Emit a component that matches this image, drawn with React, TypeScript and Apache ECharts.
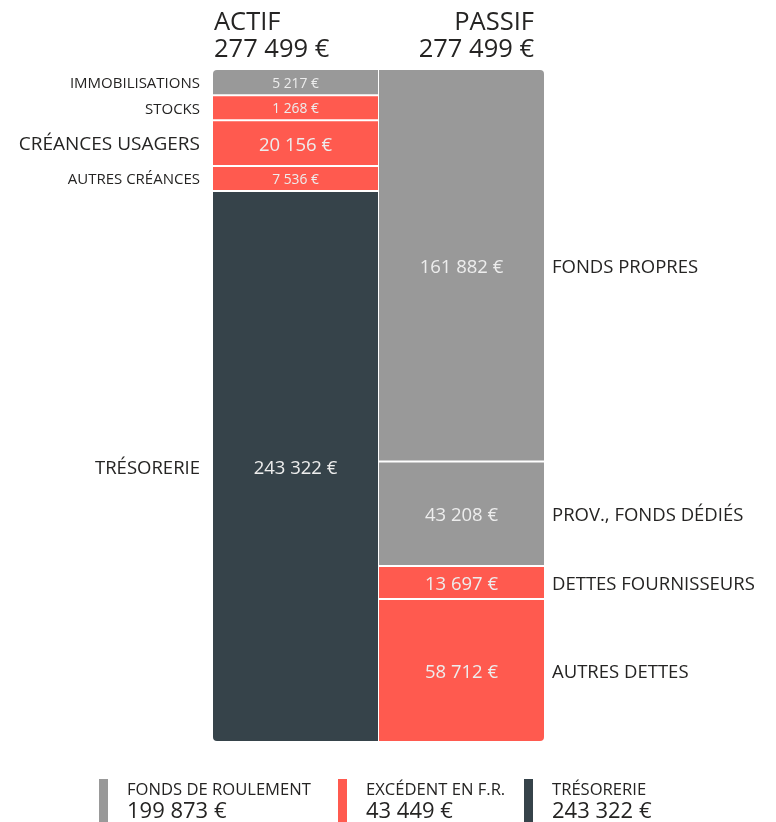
import React, { useEffect, useRef } from "react";
import * as echarts from "echarts";

const columns = ["ACTIF", "PASSIF"];
const columnTotals = [277499, 277499];

const actifNames = ["IMMOBILISATIONS", "STOCKS", "CRÉANCES USAGERS", "AUTRES CRÉANCES", "TRÉSORERIE"];
const actifValues = [5217, 1268, 20156, 7536, 243322];
const actifGroups = ["fr", "exc", "exc", "exc", "tre"];

const passifNames = ["FONDS PROPRES", "PROV., FONDS DÉDIÉS", "DETTES FOURNISSEURS", "AUTRES DETTES"];
const passifValues = [161882, 43208, 13697, 58712];
const passifGroups = ["fr", "fr", "exc", "exc"];

const legendNames = ["FONDS DE ROULEMENT", "EXCÉDENT EN F.R.", "TRÉSORERIE"];
const legendValues = [199873, 43449, 243322];
const legendKeys = ["fr", "exc", "tre"];

const COLORS: Record<string, string> = { fr: "#999999", exc: "#FF5A4F", tre: "#36434A" };
const FONT = "'Open Sans', 'Noto Sans', sans-serif";
const TEXT = "#252423";
const MIN_SHARE = 0.0375; // minimum visual share of a segment

const fmt = (n: number) => String(n).replace(/\B(?=(\d{3})+(?!\d))/g, " ") + " €";

type Item = { col: number; idx: number; n: number; start: number; end: number; value: number; name: string; group: string };

function buildColumn(col: number, names: string[], values: number[], groups: string[]): Item[] {
  const total = values.reduce((a, b) => a + b, 0);
  const minV = MIN_SHARE * total;
  const small = values.map((v) => v < minV);
  const nSmall = small.filter(Boolean).length;
  const bigSum = values.reduce((a, v, i) => a + (small[i] ? 0 : v), 0);
  const rest = total - nSmall * minV;
  let acc = 0;
  return values.map((v, i) => {
    const d = small[i] ? minV : (v * rest) / bigSum;
    const it = { col, idx: i, n: values.length, start: acc, end: acc + d, value: v, name: names[i], group: groups[i] };
    acc += d;
    return it;
  });
}

const items: Item[] = [
  ...buildColumn(0, actifNames, actifValues, actifGroups),
  ...buildColumn(1, passifNames, passifValues, passifGroups),
];

export default function App() {
  const ref = useRef<HTMLDivElement>(null);
  useEffect(() => {
    if (!ref.current) return;
    const chart = echarts.init(ref.current, null, { renderer: "svg" });
    const legendX = [99, 338, 524];
    const headerX = [214, 534];
    const headerAlign = ["left", "right"];
    const graphic: any[] = [];
    columns.forEach((c, i) => {
      graphic.push({
        type: "text", x: headerX[i], y: 19.5,
        style: { text: c, fontSize: 25.5, fontFamily: FONT, fill: TEXT, align: headerAlign[i], verticalAlign: "middle" },
      });
      graphic.push({
        type: "text", x: headerX[i], y: 46.5,
        style: { text: fmt(columnTotals[i]), fontSize: 25.5, fontFamily: FONT, fill: TEXT, align: headerAlign[i], verticalAlign: "middle" },
      });
    });
    legendKeys.forEach((k, i) => {
      graphic.push({ type: "rect", shape: { x: legendX[i], y: 779, width: 9, height: 43 }, style: { fill: COLORS[k] } });
      graphic.push({ type: "text", x: legendX[i] + 28, y: 788, style: { text: legendNames[i], fontSize: 16.6, fontFamily: FONT, fill: TEXT, verticalAlign: "middle" } });
      graphic.push({ type: "text", x: legendX[i] + 28, y: 808.5, style: { text: fmt(legendValues[i]), fontSize: 22, fontFamily: FONT, fill: TEXT, verticalAlign: "middle" } });
    });
    chart.setOption({
      animation: false,
      grid: { left: 213, right: 232, top: 70, bottom: 81 },
      xAxis: { type: "category", data: columns, show: false },
      yAxis: { type: "value", inverse: true, min: 0, max: columnTotals[0], show: false },
      graphic,
      series: [
        {
          type: "custom",
          encode: { x: 0, y: [1, 2] },
          data: items.map((it) => [it.col, it.start, it.end, it.value]),
          renderItem: (params: any, api: any) => {
            const it = items[params.dataIndex];
            const p0 = api.coord([it.col, it.start]);
            const p1 = api.coord([it.col, it.end]);
            const bw = api.size([1, 0])[0];
            let x = p0[0] - bw / 2;
            let w = bw;
            let y = p0[1];
            let h = p1[1] - p0[1];
            const first = it.idx === 0;
            const last = it.idx === it.n - 1;
            if (!first) { y += 1; h -= 1; }
            if (!last) { h -= 1; }
            if (it.col === 0) { w -= 0.5; } else { x += 0.5; w -= 0.5; }
            const r = 4;
            const radius = it.col === 0
              ? [first ? r : 0, 0, 0, last ? r : 0]
              : [0, first ? r : 0, last ? r : 0, 0];
            const big = h > 28;
            const cy = y + h / 2;
            const nameSize = big ? (it.name === "CRÉANCES USAGERS" ? 19 : 18.5) : 15;
            return {
              type: "group",
              children: [
                { type: "rect", shape: { x, y, width: w, height: h, r: radius }, style: { fill: COLORS[it.group] } },
                {
                  type: "text",
                  style: {
                    text: fmt(it.value), x: x + w / 2, y: cy, align: "center", verticalAlign: "middle",
                    fill: "#EDEDED", fontSize: big ? 18.5 : 13.8, fontFamily: FONT,
                  },
                },
                {
                  type: "text",
                  style: {
                    text: it.name, x: it.col === 0 ? x - 13 : x + w + 8, y: cy,
                    align: it.col === 0 ? "right" : "left", verticalAlign: "middle",
                    fill: TEXT, fontSize: nameSize, fontFamily: FONT,
                  },
                },
              ],
            };
          },
        },
      ],
    });
    return () => chart.dispose();
  }, []);
  return <div ref={ref} style={{ position: "fixed", left: 0, top: 0, width: 776, height: 822 }} />;
}
